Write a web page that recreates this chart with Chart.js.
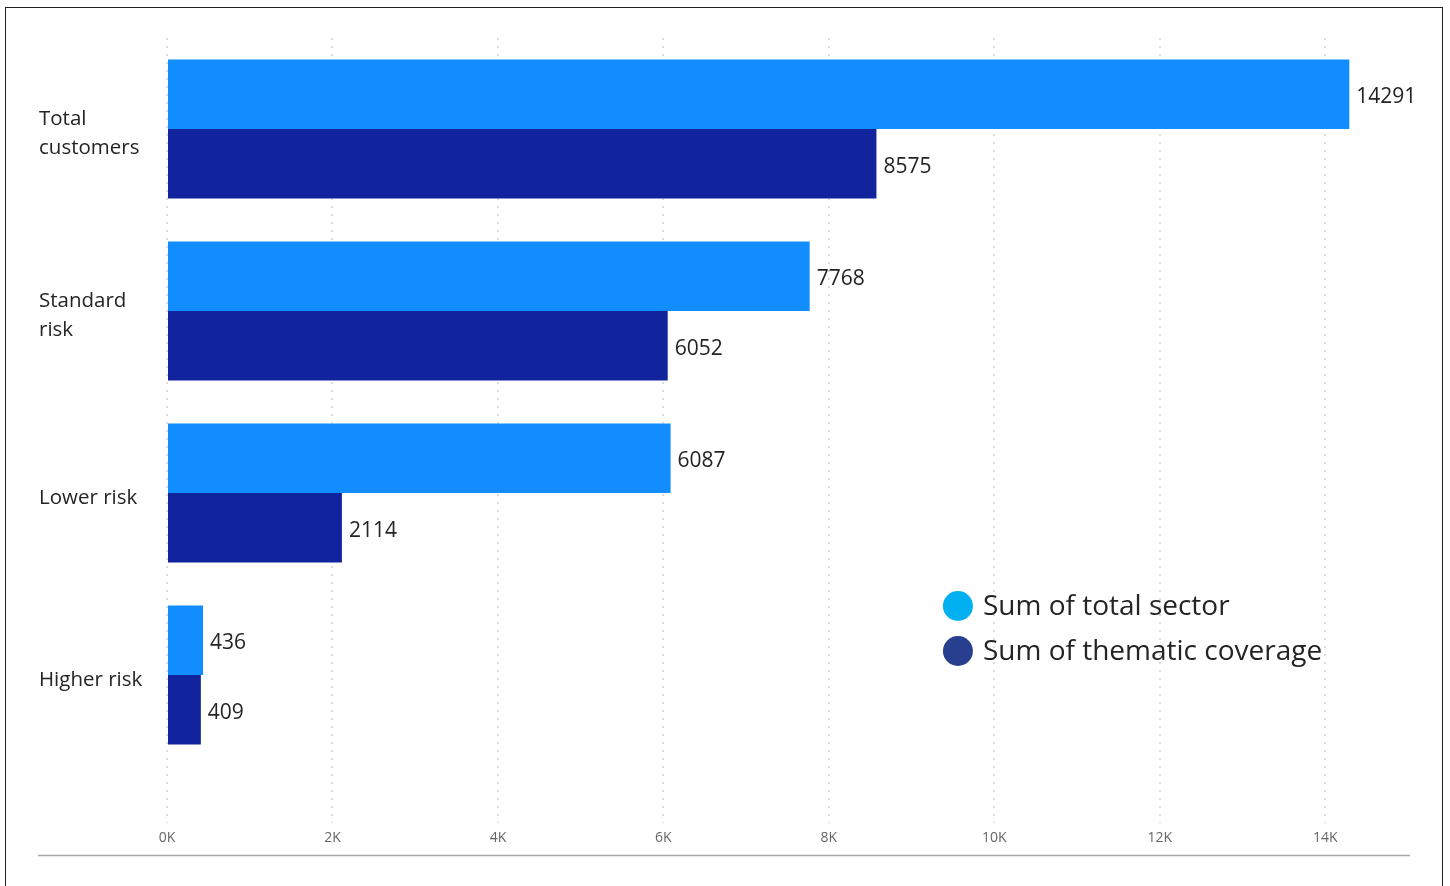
<!DOCTYPE html>
<html>
<head>
<meta charset="utf-8">
<script src="https://cdn.jsdelivr.net/npm/chart.js@4.4.1/dist/chart.umd.min.js"></script>
<style>
  html, body { margin: 0; padding: 0; background: #fff; }
  #wrap { position: relative; width: 1450px; height: 886px; overflow: hidden; }
  #frame { position: absolute; left: 5px; top: 7px; width: 1436px; height: 900px; border: 1.5px solid #222; pointer-events: none; }
</style>
</head>
<body>
<div id="wrap">
  <canvas id="riskChart" width="1450" height="886"></canvas>
  <div id="frame"></div>
</div>
<script>
// Categories and series
const categories = [['Total', 'customers'], ['Standard', 'risk'], 'Lower risk', 'Higher risk'];
const totalSector = [14291, 7768, 6087, 436];
const thematicCoverage = [8575, 6052, 2114, 409];
const seriesNames = ['Sum of total sector', 'Sum of thematic coverage'];
const tickValues = [0, 2000, 4000, 6000, 8000, 10000, 12000, 14000];

const barColors = ['#118dff', '#12239e'];
const legendColors = ['#00b0f0', '#283f8f'];
const textFont = '"Open Sans", "Noto Sans", sans-serif';

// value labels at the end of each bar
const valueLabels = {
    id: 'valueLabels',
    afterDatasetsDraw(chart) {
        const ctx = chart.ctx;
        ctx.save();
        ctx.font = '21px ' + textFont;
        ctx.fillStyle = '#252423';
        ctx.textAlign = 'left';
        ctx.textBaseline = 'middle';
        chart.data.datasets.forEach((ds, i) => {
            chart.getDatasetMeta(i).data.forEach((bar, j) => {
                ctx.fillText(String(ds.data[j]), bar.x + 7, bar.y + 3);
            });
        });
        ctx.restore();
    }
};

// legend with round markers inside the plot, plus the bottom rule
const sideLegend = {
    id: 'sideLegend',
    afterDraw(chart) {
        const ctx = chart.ctx;
        const xs = chart.scales.x;
        const left = xs.getPixelForValue(9560);
        const top = 606;
        ctx.save();
        seriesNames.forEach((name, i) => {
            const cy = top + i * 45;
            ctx.beginPath();
            ctx.arc(left, cy, 15, 0, Math.PI * 2);
            ctx.fillStyle = legendColors[i];
            ctx.fill();
            ctx.font = '28px ' + textFont;
            ctx.fillStyle = '#252423';
            ctx.textBaseline = 'middle';
            ctx.fillText(name, left + 25, cy + 1);
        });
        // bottom separator line
        ctx.beginPath();
        ctx.moveTo(chart.scales.y.left - 1, 855.5);
        ctx.lineTo(chart.chartArea.right + 2, 855.5);
        ctx.strokeStyle = '#a8a8a8';
        ctx.lineWidth = 1.5;
        ctx.stroke();
        ctx.restore();
    }
};

new Chart(document.getElementById('riskChart'), {
    type: 'bar',
    data: {
        labels: categories,
        datasets: [{
            label: seriesNames[0],
            data: totalSector,
            backgroundColor: barColors[0]
        }, {
            label: seriesNames[1],
            data: thematicCoverage,
            backgroundColor: barColors[1]
        }]
    },
    options: {
        indexAxis: 'y',
        responsive: false,
        animation: false,
        categoryPercentage: 0.765,
        barPercentage: 1.0,
        layout: { padding: { left: 39, top: 38, right: 42, bottom: 0 } },
        plugins: {
            legend: { display: false },
            tooltip: { enabled: false }
        },
        scales: {
            x: {
                min: 0,
                max: 15000,
                afterBuildTicks(scale) {
                    scale.ticks = tickValues.map(v => ({ value: v }));
                },
                afterFit(scale) { scale.height = 120; },
                border: { display: false, dash: [2, 6] },
                grid: {
                    color: '#dcdcdc',
                    lineWidth: 2,
                    drawTicks: true,
                    tickLength: 57,
                    tickColor: '#dcdcdc',
                    tickWidth: 2,
                    tickBorderDash: [2, 6]
                },
                ticks: {
                    padding: 7,
                    color: '#666',
                    font: { family: textFont, size: 14 },
                    callback: v => (v / 1000) + 'K'
                }
            },
            y: {
                afterFit(scale) { scale.width = 128; },
                border: { display: false },
                grid: { display: false },
                ticks: {
                    crossAlign: 'far',
                    labelOffset: 5,
                    color: '#252423',
                    font: { family: textFont, size: 20.5, lineHeight: 1.42 }
                }
            }
        }
    },
    plugins: [valueLabels, sideLegend]
});
</script>
</body>
</html>
